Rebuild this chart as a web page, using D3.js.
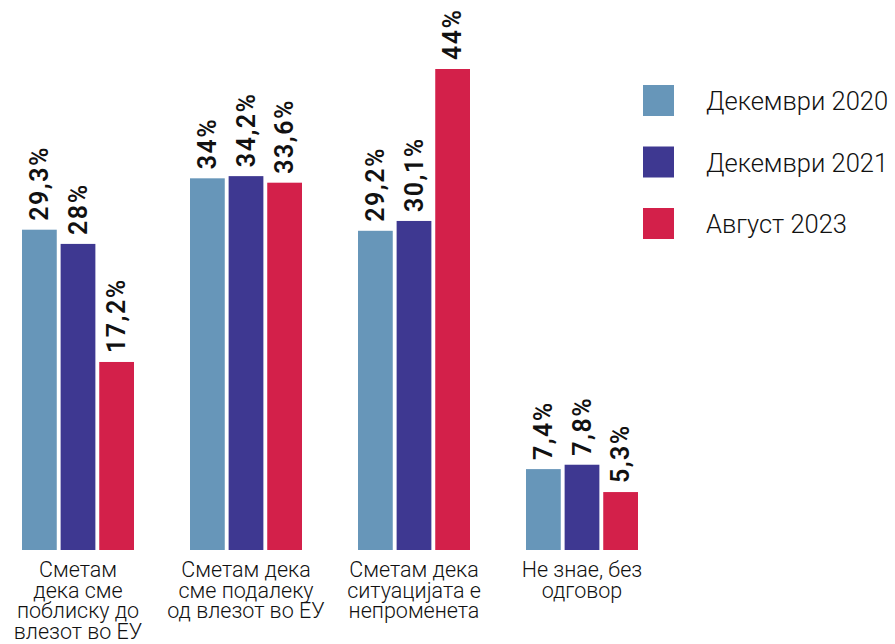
<!DOCTYPE html>
<html>
<head>
<meta charset="utf-8">
<script src="https://cdn.jsdelivr.net/npm/d3@7"></script>
<style>
  body { margin: 0; background: #fff; }
</style>
</head>
<body>
<div id="container"></div>
<script>
// categories (line breaks as in the original), series names and values
let categories = [
  "Сметам\nдека сме\nпоблиску до\nвлезот во ЕУ",
  "Сметам дека\nсме подалеку\nод влезот во ЕУ",
  "Сметам дека\nситуацијата е\nнепроменета",
  "Не знае, без\nодговор"
];
let seriesNames = ["Декември 2020", "Декември 2021", "Август 2023"];
let dec2020 = [29.3, 34, 29.2, 7.4];
let dec2021 = [28, 34.2, 30.1, 7.8];
let aug2023 = [17.2, 33.6, 44, 5.3];
let colors = ["#6796b9", "#3e3891", "#d3204a"];

let w = 895;
let h = 644;
let baseY = 550;

let viz = d3.select("#container")
  .append("svg")
  .attr("width", w)
  .attr("height", h)
  .style("background-color", "white");

let allSeries = [dec2020, dec2021, aug2023];

// table for drawing: one row per category
let rows = categories.map(function (c, i) {
  return {
    cat: c,
    vals: allSeries.map(function (s, j) { return { key: seriesNames[j], value: s[i], idx: j }; })
  };
});

let xScale = d3.scaleBand().domain(categories).range([22, 638]).paddingInner(1 / 3).paddingOuter(0);
let xInner = d3.scaleBand().domain(seriesNames).range([0, xScale.bandwidth()]).paddingInner(0.1);
let yScale = d3.scaleLinear().domain([0, 44]).range([baseY, 69]);

// groups of bars
let groups = viz.selectAll(".datagroup")
  .data(rows)
  .enter()
  .append("g")
  .attr("class", "datagroup")
  .attr("transform", function (d) { return "translate(" + xScale(d.cat) + ",0)"; });

groups.selectAll("rect")
  .data(function (d) { return d.vals; })
  .enter()
  .append("rect")
  .attr("x", function (d) { return xInner(d.key); })
  .attr("y", function (d) { return yScale(d.value); })
  .attr("width", xInner.bandwidth())
  .attr("height", function (d) { return baseY - yScale(d.value); })
  .attr("fill", function (d) { return colors[d.idx]; });

// rotated value labels
groups.selectAll(".vlabel")
  .data(function (d) { return d.vals; })
  .enter()
  .append("text")
  .attr("class", "vlabel")
  .attr("transform", function (d) {
    let x = xInner(d.key) + xInner.bandwidth() / 2;
    let y = yScale(d.value) - 9;
    return "translate(" + x + "," + y + ") rotate(-90)";
  })
  .attr("dy", "0.35em")
  .attr("font-family", "Roboto, sans-serif")
  .attr("font-weight", "600")
  .attr("font-size", "25px")
  .attr("letter-spacing", "1.5px")
  .attr("fill", "#111")
  .text(function (d) { return String(d.value).replace(".", ",") + "%"; });

// category axis
let xAxisGroup = viz.append("g")
  .attr("class", "xaxis")
  .attr("transform", "translate(0," + baseY + ")")
  .call(d3.axisBottom(xScale).tickSize(0).tickFormat(""));
xAxisGroup.select(".domain").remove();

xAxisGroup.selectAll(".tick text")
  .attr("y", 0)
  .attr("dy", null)
  .attr("font-family", "Roboto, sans-serif")
  .attr("font-weight", "300")
  .attr("font-size", "21.5px")
  .attr("fill", "#111")
  .each(function (d) {
    let lines = d.split("\n");
    let t = d3.select(this);
    lines.forEach(function (line, i) {
      t.append("tspan")
        .attr("x", 0)
        .attr("y", 27 + i * 20.5)
        .text(line);
    });
  });

// legend
let legend = viz.selectAll(".legend")
  .data(seriesNames)
  .enter()
  .append("g")
  .attr("class", "legend")
  .attr("transform", function (d, i) { return "translate(643," + (85 + i * 61.5) + ")"; });

legend.append("rect")
  .attr("width", 31)
  .attr("height", 31)
  .attr("fill", function (d, i) { return colors[i]; });

legend.append("text")
  .attr("x", 63)
  .attr("y", 25)
  .attr("font-family", "Roboto, sans-serif")
  .attr("font-weight", "300")
  .attr("font-size", "25.5px")
  .attr("fill", "#111")
  .text(function (d) { return d; });
</script>
</body>
</html>
